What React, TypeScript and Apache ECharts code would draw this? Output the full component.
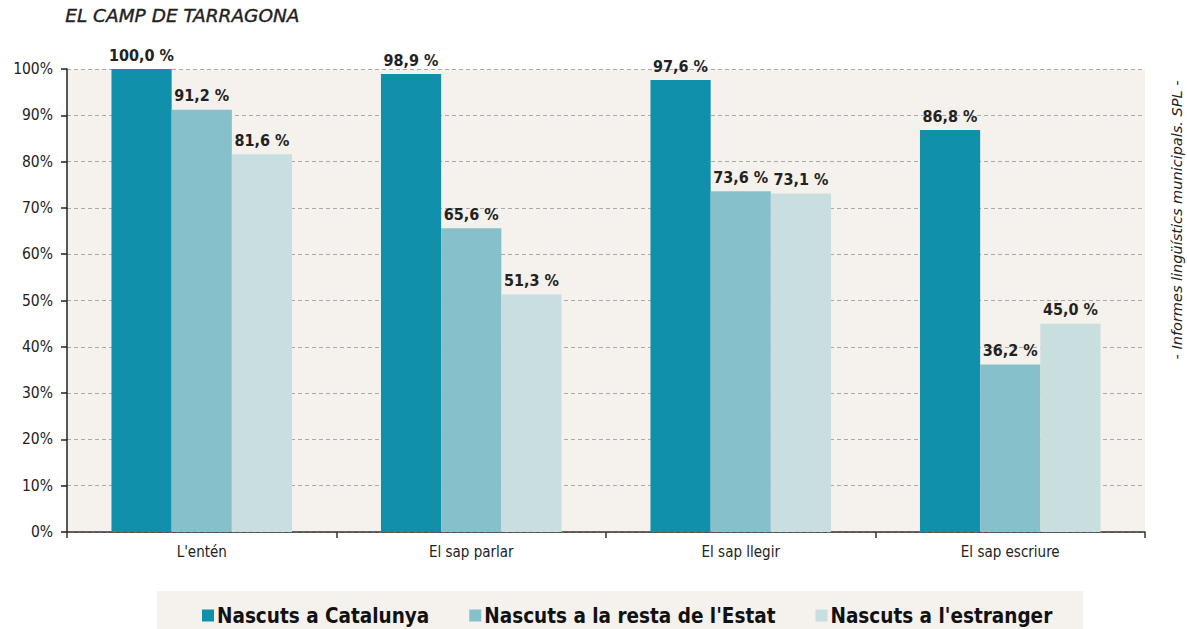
import React, { useEffect, useRef } from "react";
import * as echarts from "echarts";

const categories = ["L'entén", "El sap parlar", "El sap llegir", "El sap escriure"];
const seriesNames = ["Nascuts a Catalunya", "Nascuts a la resta de l'Estat", "Nascuts a l'estranger"];
const catalunya = [100.0, 98.9, 97.6, 86.8];
const restaEstat = [91.2, 65.6, 73.6, 36.2];
const estranger = [81.6, 51.3, 73.1, 45.0];
const colors = ["#1190AB", "#86C1CB", "#C9DFDF"];
const title = "EL CAMP DE TARRAGONA";
const sourceText = "- Informes lingüístics municipals. SPL -";

const FONT = "'DejaVu Sans Condensed', 'DejaVu Sans', sans-serif";
const FONT_WIDE = "'DejaVu Sans', sans-serif";

export default function App() {
  const ref = useRef<HTMLDivElement>(null);
  useEffect(() => {
    if (!ref.current) return;
    const chart = echarts.init(ref.current, null, { renderer: "svg" });
    const values = [catalunya, restaEstat, estranger];
    chart.setOption({
      animation: false,
      textStyle: { fontFamily: FONT },
      grid: { left: 67, right: 42, top: 69, bottom: 97, show: true, backgroundColor: "#F5F1EC", borderWidth: 0 },
      graphic: [
        { type: "rect", left: 157, top: 591, shape: { width: 926, height: 38 }, style: { fill: "#F5F1EC" }, z: -1 },
        {
          type: "text", left: 65, top: 6,
          style: { text: title, font: `italic 18.5px ${FONT_WIDE}`, fill: "#222", stroke: "#222", lineWidth: 0.4 },
        },
        {
          type: "text", x: 1177, y: 220, rotation: Math.PI / 2,
          style: { text: sourceText, font: `italic 14.5px ${FONT_WIDE}`, fill: "#222", align: "center", verticalAlign: "middle" },
        },
      ],
      legend: {
        left: 197, top: 600, itemWidth: 12, itemHeight: 12, itemGap: 40, icon: "rect",
        textStyle: { fontFamily: FONT, fontWeight: "bold", fontSize: 20.5, color: "#111", padding: [0, 0, 0, -2] },
        data: seriesNames,
      },
      xAxis: {
        type: "category", data: categories,
        axisLine: { lineStyle: { color: "#333", width: 1.5 } },
        axisTick: { show: true, length: 6, lineStyle: { color: "#333", width: 1.5 } },
        axisLabel: { fontSize: 15, color: "#222", margin: 12, fontFamily: FONT },
      },
      yAxis: {
        type: "value", min: 0, max: 100, interval: 10,
        axisLine: { show: true, lineStyle: { color: "#222", width: 1.5 } },
        axisTick: { show: true, length: 6, lineStyle: { color: "#222", width: 1.5 } },
        axisLabel: { fontSize: 15.5, color: "#222", margin: 14, formatter: "{value}%", fontFamily: FONT },
        splitLine: { lineStyle: { color: "#AAAAAA", type: [4, 3] } },
      },
      series: seriesNames.map((name, i) => ({
        name, type: "bar", data: values[i], barGap: "0%", barCategoryGap: "33%",
        itemStyle: { color: colors[i] },
        label: {
          show: true, position: "top", distance: 6,
          fontSize: 16, fontWeight: "bold", color: "#222", fontFamily: FONT,
          formatter: (p: any) => p.value.toFixed(1).replace(".", ",") + " %",
        },
      })),
    });
    return () => chart.dispose();
  }, []);
  return <div ref={ref} style={{ position: "fixed", left: 0, top: 0, width: 1187, height: 629, background: "#fff" }} />;
}
